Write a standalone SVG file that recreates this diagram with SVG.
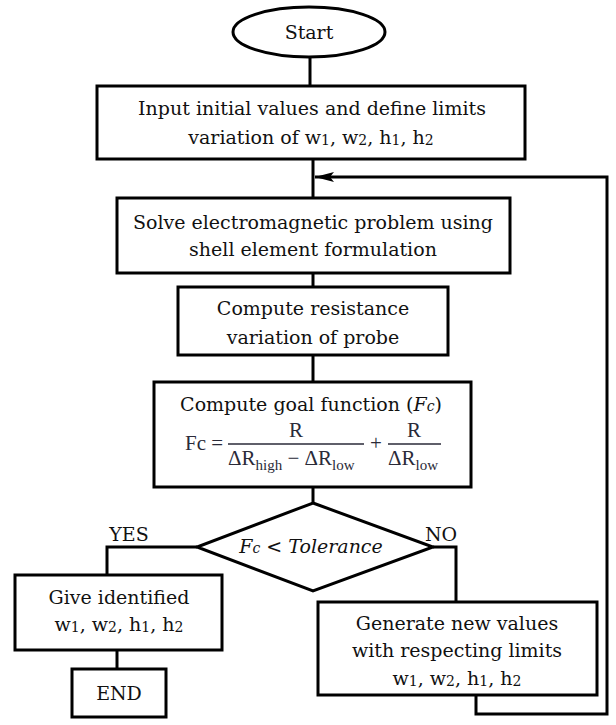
<svg xmlns="http://www.w3.org/2000/svg" width="616" height="725" viewBox="0 0 616 725">
<defs>
<style>
.n{fill:#fff;stroke:#000;stroke-width:3}
.c{fill:none;stroke:#000;stroke-width:3}
.t{font-family:"DejaVu Serif","Liberation Serif",serif;font-size:19px;fill:#111;text-anchor:middle}
.s{font-size:14px}
.m{font-family:"Liberation Serif","DejaVu Serif",serif;fill:#2a2a38;font-size:21px}
.ms{font-size:15px}
</style>
<marker id="ah" markerWidth="20" markerHeight="10" refX="19" refY="5" orient="auto" markerUnits="userSpaceOnUse">
<path d="M0,0 L19,5 L0,10 L4,5 Z" fill="#000"/>
</marker>
</defs>
<g id="connectors">
<path class="c" d="M310,57 V86"/>
<path class="c" d="M313,159 V198"/>
<path class="c" d="M313,273 V287"/>
<path class="c" d="M313,355 V382"/>
<path class="c" d="M313,487 V503"/>
<path class="c" d="M197,547 H107 V575"/>
<path class="c" d="M117,650 V669"/>
<path class="c" d="M433,547 H456 V602"/>
<path class="c" d="M476,695 V714 H607 V177 H315" marker-end="url(#ah)"/>
<text class="t" x="129" y="541" font-size="18">YES</text>
<text class="t" x="441" y="541" font-size="18">NO</text>
</g>
<g id="start">
<ellipse class="n" cx="309" cy="32" rx="76" ry="25"/>
<text class="t" x="309" y="39">Start</text>
</g>
<g id="input">
<rect class="n" x="97" y="86" width="428" height="73"/>
<text class="t" x="312" y="115">Input initial values and define limits</text>
<text class="t" x="311" y="144">variation of w<tspan class="s" dy="1">1</tspan><tspan dy="-1">, w</tspan><tspan class="s" dy="1">2</tspan><tspan dy="-1">, h</tspan><tspan class="s" dy="1">1</tspan><tspan dy="-1">, h</tspan><tspan class="s" dy="1">2</tspan></text>
</g>
<g id="solve">
<rect class="n" x="117" y="198" width="393" height="75"/>
<text class="t" x="313" y="229">Solve electromagnetic problem using</text>
<text class="t" x="313" y="256">shell element formulation</text>
</g>
<g id="resistance">
<rect class="n" x="178" y="287" width="270" height="68"/>
<text class="t" x="313" y="315">Compute resistance</text>
<text class="t" x="313" y="344">variation of probe</text>
</g>
<g id="goal">
<rect class="n" x="154" y="382" width="317" height="105"/>
<text class="t" x="311" y="411">Compute goal function (<tspan font-style="italic">F</tspan><tspan class="s" font-style="italic">c</tspan>)</text>
<text class="m" x="185" y="450">Fc =</text>
<text class="m" x="296" y="437" text-anchor="middle">R</text>
<line x1="228" y1="444" x2="364" y2="444" stroke="#2a2a38" stroke-width="1.5"/>
<text class="m" x="228" y="465">ΔR<tspan class="ms" dy="5">high</tspan><tspan dy="-5"> − ΔR</tspan><tspan class="ms" dy="5">low</tspan></text>
<text class="m" x="376" y="450" text-anchor="middle">+</text>
<text class="m" x="414" y="437" text-anchor="middle">R</text>
<line x1="388" y1="444" x2="441" y2="444" stroke="#2a2a38" stroke-width="1.5"/>
<text class="m" x="388" y="465">ΔR<tspan class="ms" dy="5">low</tspan></text>
</g>
<g id="decision">
<polygon class="n" points="313,503 433,547 313,591 197,547"/>
<text class="t" x="311" y="553" font-style="italic" font-size="18">F<tspan class="s">c</tspan> &lt; Tolerance</text>
</g>
<g id="give">
<rect class="n" x="15" y="575" width="207" height="75"/>
<text class="t" x="119" y="604">Give identified</text>
<text class="t" x="119" y="631">w<tspan class="s" dy="1">1</tspan><tspan dy="-1">, w</tspan><tspan class="s" dy="1">2</tspan><tspan dy="-1">, h</tspan><tspan class="s" dy="1">1</tspan><tspan dy="-1">, h</tspan><tspan class="s" dy="1">2</tspan></text>
</g>
<g id="end">
<rect class="n" x="72" y="669" width="94" height="48"/>
<text class="t" x="119" y="700">END</text>
</g>
<g id="generate">
<rect class="n" x="318" y="602" width="279" height="93"/>
<text class="t" x="457" y="630">Generate new values</text>
<text class="t" x="457" y="657">with respecting limits</text>
<text class="t" x="457" y="685">w<tspan class="s" dy="1">1</tspan><tspan dy="-1">, w</tspan><tspan class="s" dy="1">2</tspan><tspan dy="-1">, h</tspan><tspan class="s" dy="1">1</tspan><tspan dy="-1">, h</tspan><tspan class="s" dy="1">2</tspan></text>
</g>
</svg>
